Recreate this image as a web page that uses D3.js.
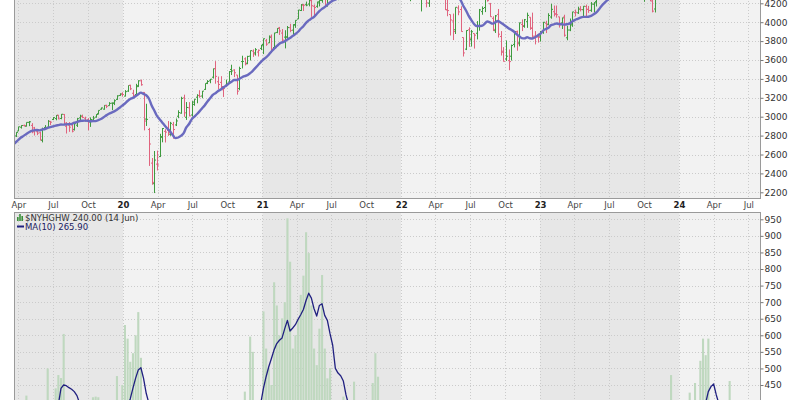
<!DOCTYPE html>
<html><head><meta charset="utf-8">
<script src="https://cdn.jsdelivr.net/npm/d3@7/dist/d3.min.js"></script>
<style>
html,body{margin:0;padding:0;background:#fff;}
svg{display:block;}
text{font-family:"DejaVu Sans",Verdana,sans-serif;}
</style></head><body>
<svg id="chart" width="800" height="400"></svg>
<script>
// ---------- DATA ----------
const firstWeek = "2019-03-18";
const lastWeek  = "2024-06-10";

// S&P 500 weekly OHLC (one value per week, from firstWeek)
const opens = [
 2823,2796,2848,2889,2908,2899,2940,2908,2840,2841,2830,2751,2886,2889,2952,2971,2980,3017,2981,3024,2898,2910,2913,2866,2910,2988,3001,2984,2968,2945,2965,2996,3032,3079,3080,3118,3117,3143,3141,3183,3225,3240,
 3218,3271,3333,3248,3235,3318,3380,3257,2975,2864,2509,2291,2498,2578,2782,2845,2854,2815,2915,2913,3005,3038,3199,2994,3095,3018,3155,3206,3224,3219,3289,3356,3380,3418,3509,3370,3363,3285,3333,3367,3500,3494,3441,3297,3583,3612,3566,3641,3694,3675,3684,3723,
 3764,3803,3781,3851,3732,3892,3939,3885,3842,3844,3942,3916,3969,4034,4124,4180,4185,4192,4228,4169,4168,4216,4229,4248,4174,4285,4356,4373,4296,4410,4406,4437,4462,4450,4514,4535,4474,4402,4442,4348,4385,4463,4553,4610,4701,4689,4712,4628,4548,4710,4587,4733,
 4778,4655,4632,4357,4431,4505,4412,4332,4354,4327,4202,4462,4541,4547,4474,4385,4256,4130,4081,4013,3920,4151,4134,3838,3715,3920,3815,3880,3883,3965,4112,4155,4269,4195,4041,3910,4083,3849,3682,3610,3593,3640,3765,3902,3781,3977,3956,4005,4053,3939,3853,3843,
 3853,3911,3989,3979,4055,4111,4084,4057,3993,4055,3835,3917,3982,4102,4099,4140,4132,4166,4136,4126,4190,4220,4283,4308,4400,4337,4450,4394,4502,4543,4584,4492,4464,4389,4426,4511,4473,4453,4310,4284,4289,4320,4238,4140,4365,4406,4514,4555,4569,4593,4725,4759,
 4745,4690,4765,4853,4900,4957,5026,4989,5093,5131,5111,5123,5219,5257,5201,5149,4987,5114,5142,5221,5305,5316,5283,5341];
const highs = [
 2860,2836,2894,2910,2916,2940,2954,2932,2892,2868,2840,2884,2911,2964,2954,2996,3017,3017,3028,3028,2943,2943,2939,2940,2985,3021,3022,3000,2984,2993,3008,3027,3067,3097,3121,3127,3154,3150,3183,3226,3247,3258,
 3282,3330,3338,3285,3348,3385,3393,3260,3137,2882,2563,2637,2641,2819,2880,2868,2954,2945,2945,2981,3068,3211,3233,3155,3154,3165,3186,3238,3280,3272,3352,3387,3399,3509,3588,3425,3429,3320,3393,3482,3550,3502,3441,3529,3645,3628,3644,3701,3712,3726,3711,3760,
 3827,3823,3860,3870,3887,3937,3950,3928,3915,3960,3983,3978,4021,4130,4192,4194,4218,4238,4236,4187,4219,4233,4249,4258,4287,4356,4372,4393,4415,4429,4440,4468,4480,4513,4545,4549,4492,4465,4465,4419,4475,4560,4608,4718,4714,4718,4743,4672,4713,4731,4741,4808,
 4819,4749,4632,4453,4595,4590,4489,4385,4416,4327,4465,4546,4637,4593,4484,4513,4309,4307,4081,4091,4158,4178,4168,3838,3914,3946,3918,3880,4012,4140,4167,4281,4325,4204,4062,4076,4140,3906,3736,3807,3712,3763,3905,3911,3996,4029,4034,4101,4053,4101,3906,3878,
 3906,4003,4015,4095,4195,4176,4176,4057,4048,4079,3963,4039,4110,4134,4164,4170,4170,4186,4172,4213,4212,4290,4299,4449,4409,4458,4457,4528,4578,4594,4607,4528,4491,4452,4542,4514,4511,4466,4338,4320,4385,4393,4268,4366,4415,4520,4560,4595,4609,4738,4778,4793,
 4755,4802,4842,4907,4975,5030,5048,5111,5140,5190,5179,5262,5264,5263,5222,5176,5114,5123,5239,5325,5342,5325,5375,5447];
const lows = [
 2800,2785,2848,2874,2896,2896,2900,2825,2801,2805,2750,2728,2863,2880,2912,2964,2962,2973,2973,2914,2822,2840,2834,2853,2891,2964,2985,2946,2856,2892,2952,2990,3024,3075,3074,3091,3116,3070,3123,3178,3221,3213,
 3214,3263,3281,3214,3234,3316,3328,2855,2902,2479,2280,2192,2431,2574,2729,2727,2797,2798,2767,2901,2984,3032,2999,2966,3004,3001,3116,3142,3201,3195,3284,3345,3354,3404,3349,3293,3292,3209,3323,3354,3441,3419,3233,3280,3511,3543,3555,3595,3633,3647,3637,3705,
 3663,3750,3780,3695,3726,3884,3865,3789,3723,3814,3894,3853,3940,4034,4118,4119,4169,4168,4056,4061,4153,4167,4206,4165,4165,4274,4296,4321,4233,4367,4384,4425,4367,4444,4513,4456,4427,4306,4289,4279,4323,4447,4537,4595,4630,4672,4585,4495,4532,4600,4531,4733,
 4662,4582,4395,4222,4414,4401,4327,4114,4279,4157,4162,4424,4506,4450,4381,4267,4129,4063,3859,3811,3875,4074,3900,3637,3705,3739,3742,3721,3818,3910,4079,4107,4218,4057,3906,3886,3838,3647,3584,3590,3492,3594,3733,3698,3745,3906,3941,3940,3919,3828,3765,3784,
 3795,3877,3885,3967,4037,4061,4048,3943,3928,3847,3809,3905,3951,4061,4087,4114,4049,4048,4099,4109,4104,4166,4261,4303,4341,4328,4385,4389,4491,4528,4463,4448,4335,4357,4417,4424,4449,4316,4238,4216,4284,4223,4104,4103,4329,4406,4511,4537,4546,4593,4678,4751,
 4683,4682,4714,4842,4846,4918,4920,4946,5057,5075,5104,5118,5203,5146,5107,4953,4963,4990,5127,5211,5257,5191,5234,5331];
const closes = [
 2800,2834,2893,2907,2905,2940,2946,2881,2860,2826,2752,2873,2887,2950,2942,2990,3014,2977,3026,2932,2919,2889,2847,2926,2979,3007,2992,2962,2952,2970,2986,3023,3067,3093,3120,3110,3141,3146,3169,3221,3240,3235,
 3265,3330,3295,3226,3328,3380,3338,2954,2972,2711,2305,2541,2489,2790,2875,2837,2831,2930,2864,2955,3044,3194,3041,3098,3009,3130,3185,3225,3216,3271,3351,3373,3397,3508,3427,3341,3319,3298,3348,3477,3484,3465,3270,3510,3585,3558,3638,3699,3663,3709,3703,3756,
 3825,3768,3841,3714,3887,3934,3907,3811,3842,3943,3913,3975,4020,4129,4185,4180,4181,4233,4174,4156,4204,4230,4247,4166,4281,4352,4370,4327,4412,4395,4437,4468,4442,4509,4535,4459,4433,4455,4357,4391,4471,4545,4605,4697,4682,4698,4595,4538,4712,4620,4725,4766,
 4677,4662,4398,4432,4500,4419,4349,4385,4329,4204,4463,4543,4546,4488,4393,4272,4132,4123,4024,3901,4158,4109,3901,3675,3912,3825,3899,3863,3962,4130,4145,4280,4228,4058,3924,4067,3873,3693,3586,3640,3583,3753,3901,3771,3993,3965,4026,4072,3934,3852,3845,3840,
 3895,3999,3973,4071,4136,4090,4079,3970,4046,3862,3917,3971,4109,4105,4138,4133,4169,4136,4124,4192,4205,4282,4299,4410,4348,4450,4399,4505,4536,4582,4478,4464,4370,4406,4516,4457,4450,4320,4288,4308,4327,4224,4117,4358,4415,4514,4559,4595,4604,4719,4755,4770,
 4697,4784,4840,4891,4959,5027,5006,5089,5137,5124,5117,5234,5254,5204,5123,4967,5100,5128,5223,5303,5305,5278,5347,5431];
// Price moving average (13-week), one value per week
const priceMA = [
 2700,2727,2755,2779,2797,2818,2836,2850,2856,2859,2855,2865,2870,2881,2889,2897,2905,2911,2917,2916,2919,2921,2923,2936,2944,2954,2957,2958,2956,2952,2953,2953,2963,2976,2994,3014,3031,3044,3056,3074,3095,3117,
 3140,3166,3187,3199,3217,3237,3255,3241,3227,3192,3121,3068,3010,2974,2939,2904,2873,2843,2803,2773,2780,2797,2823,2884,2920,2969,2999,3026,3056,3089,3122,3161,3195,3231,3249,3272,3289,3311,3328,3350,3370,3389,3389,3401,3418,3430,3440,3461,3486,3516,3547,3578,
 3605,3627,3656,3690,3719,3746,3773,3786,3797,3818,3834,3855,3875,3899,3931,3957,3993,4019,4038,4057,4087,4117,4141,4160,4184,4209,4228,4239,4256,4273,4289,4311,4333,4357,4380,4396,4417,4430,4431,4432,4443,4454,4470,4490,4506,4526,4533,4533,4552,4567,4587,4619,
 4641,4656,4644,4631,4616,4596,4569,4553,4536,4497,4485,4471,4454,4440,4419,4409,4386,4357,4327,4293,4275,4258,4235,4174,4126,4070,4025,3984,3960,3960,3962,3982,4007,3999,3985,3998,4013,3996,3978,3958,3936,3920,3902,3874,3852,3831,3829,3840,3830,3828,3840,3860,
 3879,3911,3928,3941,3969,3977,3986,3981,3979,3974,3979,3988,4009,4025,4036,4048,4056,4056,4058,4067,4085,4103,4137,4175,4204,4230,4253,4281,4312,4344,4370,4396,4410,4425,4443,4455,4459,4456,4444,4437,4423,4399,4363,4354,4350,4362,4373,4379,4391,4411,4445,4482,
 4512,4547,4594,4654,4700,4747,4785,4826,4868,4908,4938,4975,5012,5051,5077,5087,5103,5116,5131,5154,5171,5182,5199,5223];

// $NYHGHW weekly values
const nyhghw = [
 300,260,330,350,320,418,390,250,280,300,180,330,380,500,390,400,440,480,471,604,380,300,180,220,330,390,360,300,200,260,413,415,413,390,380,360,370,340,400,477,380,450,
 631,590,520,546,600,670,532,330,120,30,5,3,4,10,15,10,15,25,20,30,50,120,60,70,60,80,100,130,150,170,230,260,250,300,260,150,140,110,150,250,280,230,130,250,330,430,380,596,550,390,320,380,
 672,560,500,450,760,690,600,651,700,953,822,560,600,646,722,780,911,848,690,560,510,620,782,560,470,501,330,280,380,350,415,300,280,350,460,390,250,230,150,180,300,456,546,475,380,300,200,150,250,200,230,330,
 280,170,90,60,110,130,80,70,90,60,120,180,190,160,90,70,40,30,25,20,40,60,30,15,25,30,40,35,60,90,100,130,120,70,40,50,35,20,15,25,20,40,80,70,120,140,160,180,110,90,80,70,
 90,150,160,190,240,170,150,100,130,80,60,90,130,120,130,120,110,90,100,110,100,150,170,250,190,200,180,260,300,330,220,160,110,100,150,120,110,60,40,35,50,40,30,120,150,230,270,330,360,480,380,300,
 180,220,300,350,427,360,456,380,523,590,540,590,380,300,220,100,150,200,350,462,380,260,270,240];
// MA(10) of $NYHGHW (read per week)
const nyhghwMA = [
 290,295,300,305,310,320,325,320,318,322,310,317,322,337,344,352,357,390,440,450,448,442,437,430,418,395,370,345,320,305,310,330,345,360,365,362,364,365,370,378,375,378,
 372,388,408,440,470,495,502,470,425,395,340,290,240,190,140,90,40,15,15,17,20,30,35,40,45,52,60,70,80,95,112,125,145,168,185,190,195,196,197,205,215,215,205,200,215,245,268,300,330,335,350,395,
 440,475,505,530,556,575,585,592,620,645,613,622,632,648,662,678,705,727,712,680,658,690,695,660,645,605,570,500,486,478,462,420,390,372,370,365,355,340,320,305,300,310,330,345,350,345,335,325,315,305,290,275,
 260,240,215,195,185,175,160,150,135,115,100,100,110,120,118,112,108,100,95,90,85,75,60,45,38,34,34,35,38,43,50,57,65,70,72,73,72,70,65,58,50,43,40,40,48,57,70,85,95,102,108,111,
 112,120,124,129,135,134,133,134,140,140,135,130,128,125,121,116,110,108,109,112,113,116,120,130,138,145,152,169,190,212,224,225,219,204,200,192,185,165,140,110,85,67,58,60,65,76,92,114,146,190,223,249,
 263,273,288,300,315,318,328,330,345,380,395,430,445,453,420,393,360,330,320,315,300,280,270,266];

const priceTicks = [2200,2400,2600,2800,3000,3200,3400,3600,3800,4000,4200];
const lowerTicks = [450,500,550,600,650,700,750,800,850,900,950];
const xTickDates = ["2019-04-01","2019-07-01","2019-10-01","2020-01-01","2020-04-01","2020-07-01","2020-10-01","2021-01-01","2021-04-01","2021-07-01","2021-10-01","2022-01-01","2022-04-01","2022-07-01","2022-10-01","2023-01-01","2023-04-01","2023-07-01","2023-10-01","2024-01-01","2024-04-01","2024-07-01"];
const xTickLabels = ["Apr","Jul","Oct","20","Apr","Jul","Oct","21","Apr","Jul","Oct","22","Apr","Jul","Oct","23","Apr","Jul","Oct","24","Apr","Jul"];
const yearStarts = ["2019-01-01","2020-01-01","2021-01-01","2022-01-01","2023-01-01","2024-01-01","2025-01-01"];
const legendMain = "$NYHGHW 240.00 (14 Jun)";
const legendMA = "MA(10) 265.90";

// ---------- LAYOUT ----------
const plotL = 14, plotR = 761;
const pTop = -20, pBot = 199;
const lTop = 212, lBot = 420;
const bandDark = "#e7e7e7", bandLight = "#f2f2f2";
const gridCol = "#cbcbcb";
const upCol = "#3f9a3f", downCol = "#e0647e";

const parseDay = d3.utcParse("%Y-%m-%d");
const weeks = d3.utcMonday.range(parseDay(firstWeek), d3.utcDay.offset(parseDay(lastWeek), 1));
const n = Math.min(weeks.length, closes.length);

const x = d3.scaleUtc().domain([parseDay("2020-01-01"), parseDay("2024-01-01")]).range([123, 679]);
const yP = d3.scaleLinear().domain([2200, 4200]).range([192.3, 3.3]);
const yL = d3.scaleLinear().domain([450, 950]).range([385, 219.3]);

const svg = d3.select("#chart");
const defs = svg.append("defs");
defs.append("clipPath").attr("id","clipP").append("rect").attr("x",plotL).attr("y",pTop).attr("width",plotR-plotL).attr("height",pBot-pTop);
defs.append("clipPath").attr("id","clipL").append("rect").attr("x",plotL).attr("y",lTop).attr("width",plotR-plotL).attr("height",lBot-lTop);

function panelBase(clipId, top, bot, yScale, ticks) {
  const g = svg.append("g").attr("clip-path", `url(#${clipId})`);
  const ys = yearStarts.map(parseDay);
  for (let k = 0; k < ys.length - 1; k++) {
    g.append("rect").attr("x", x(ys[k])).attr("y", top)
      .attr("width", x(ys[k+1]) - x(ys[k])).attr("height", bot - top)
      .attr("fill", k % 2 === 0 ? bandDark : bandLight);
  }
  ticks.forEach(t => {
    g.append("line").attr("x1", plotL).attr("x2", plotR)
      .attr("y1", Math.round(yScale(t)) + 0.5).attr("y2", Math.round(yScale(t)) + 0.5)
      .attr("stroke", gridCol).attr("stroke-dasharray", "1,2");
  });
  xTickDates.forEach(d => {
    const xx = Math.round(x(parseDay(d))) + 0.5;
    g.append("line").attr("x1", xx).attr("x2", xx).attr("y1", top).attr("y2", bot)
      .attr("stroke", gridCol).attr("stroke-dasharray", "1,2");
  });
  return g;
}

// ---------- PRICE PANEL ----------
const gP = panelBase("clipP", pTop, pBot, yP, priceTicks);
const bars = gP.append("g");
for (let i = 0; i < n; i++) {
  const xx = Math.round(x(weeks[i])) + 0.5;
  const up = i === 0 ? closes[i] >= opens[i] : closes[i] >= closes[i-1];
  const col = up ? upCol : downCol;
  const b = bars.append("g").attr("stroke", col).attr("stroke-width", 1);
  b.append("line").attr("x1", xx).attr("x2", xx).attr("y1", yP(highs[i])).attr("y2", yP(lows[i]));
  b.append("line").attr("x1", xx - 1.5).attr("x2", xx).attr("y1", yP(opens[i])).attr("y2", yP(opens[i]));
  b.append("line").attr("x1", xx).attr("x2", xx + 1.5).attr("y1", yP(closes[i])).attr("y2", yP(closes[i]));
}
gP.append("path").datum(d3.range(n))
  .attr("fill", "none").attr("stroke", "#6a6abf").attr("stroke-width", 2.4)
  .attr("stroke-linejoin", "round")
  .attr("d", d3.line().x(i => x(weeks[i])).y(i => yP(priceMA[i])).curve(d3.curveMonotoneX));

// ---------- LOWER PANEL ----------
const gL = panelBase("clipL", lTop, lBot, yL, lowerTicks);
gL.append("g").selectAll("rect").data(d3.range(n)).join("rect")
  .attr("x", i => x(weeks[i]) - 1)
  .attr("width", 2.1)
  .attr("y", i => yL(nyhghw[i]))
  .attr("height", i => yL(0) - yL(nyhghw[i]))
  .attr("fill", "#bfd8bf");
gL.append("path").datum(d3.range(n))
  .attr("fill", "none").attr("stroke", "#202080").attr("stroke-width", 1.3)
  .attr("stroke-linejoin", "round")
  .attr("d", d3.line().x(i => x(weeks[i])).y(i => yL(nyhghwMA[i])));

// ---------- BORDERS ----------
svg.append("rect").attr("x", plotL + 0.5).attr("y", pTop).attr("width", plotR - plotL - 1).attr("height", pBot - pTop - 0.5)
  .attr("fill", "none").attr("stroke", "#9a9a9a");
svg.append("rect").attr("x", plotL + 0.5).attr("y", lTop + 0.5).attr("width", plotR - plotL - 1).attr("height", lBot - lTop)
  .attr("fill", "none").attr("stroke", "#9a9a9a");

// ---------- AXES ----------
function styleAxis(g, size) {
  g.select(".domain").remove();
  g.selectAll(".tick line").attr("stroke", "#777");
  g.selectAll("text").attr("font-family", "'DejaVu Sans', Verdana, sans-serif").attr("font-size", size).attr("fill", "#333");
}
const axP = svg.append("g").attr("transform", `translate(${plotR - 0.5},0)`)
  .call(d3.axisRight(yP).tickValues(priceTicks).tickSize(3).tickPadding(1).tickFormat(d3.format("d")));
styleAxis(axP, 9);
const axL = svg.append("g").attr("transform", `translate(${plotR - 0.5},0)`)
  .call(d3.axisRight(yL).tickValues(lowerTicks).tickSize(3).tickPadding(1).tickFormat(d3.format("d")));
styleAxis(axL, 9);

const axX = svg.append("g").attr("transform", `translate(0,${pBot})`)
  .call(d3.axisBottom(x).tickValues(xTickDates.map(parseDay)).tickSize(0).tickPadding(3)
    .tickFormat((d, i) => xTickLabels[i]));
axX.select(".domain").remove();
axX.selectAll("text")
  .attr("font-family", "'DejaVu Sans', Verdana, sans-serif")
  .attr("font-size", 8.5)
  .attr("fill", (d, i) => /^\d+$/.test(xTickLabels[i]) ? "#222" : "#444")
  .attr("font-weight", (d, i) => /^\d+$/.test(xTickLabels[i]) ? "bold" : "normal");

// ---------- LEGEND ----------
const lg = svg.append("g");
const iconH = [4, 7, 5];
iconH.forEach((h, k) => {
  lg.append("rect").attr("x", 17 + k * 2.2).attr("y", 221 - h).attr("width", 1.6).attr("height", h).attr("fill", "#3a8f3a");
});
lg.append("text").attr("x", 25).attr("y", 220.5).attr("font-size", 8.5).attr("fill", "#333").text(legendMain);
lg.append("line").attr("x1", 17).attr("x2", 24).attr("y1", 226.5).attr("y2", 226.5).attr("stroke", "#202080").attr("stroke-width", 2);
lg.append("text").attr("x", 25).attr("y", 229.5).attr("font-size", 8.5).attr("fill", "#202060").text(legendMA);
</script>
</body></html>
